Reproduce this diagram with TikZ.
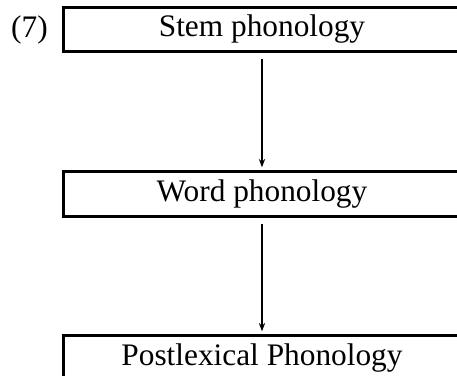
\documentclass[tikz,border=0pt]{standalone}
\usepackage{fontspec}
\setmainfont{Liberation Serif}
\usetikzlibrary{arrows.meta}
\begin{document}
\begin{tikzpicture}[x=0.383pt,y=-0.383pt, every node/.style={font=\fontsize{12}{14}\selectfont}, level/.style={draw,line width=1.15pt,minimum width=152pt,minimum height=16.9pt,inner sep=0pt}, flow/.style={line width=0.4pt,-{Stealth[length=3.2pt,width=2.4pt]},shorten <=2.3pt,shorten >=1.2pt}]
\useasboundingbox (0,0) rectangle (457,376);
\node[level] (stem) at (262,29.5) {Stem phonology};
\node[level] (word) at (262,194) {Word phonology};
\node[level] (post) at (262,358) {Postlexical Phonology};
\node (num) at (29.5,29.5) {(7)};
\draw[flow] (stem.south) -- (word.north);
\draw[flow] (word.south) -- (post.north);
\end{tikzpicture}
\end{document}
